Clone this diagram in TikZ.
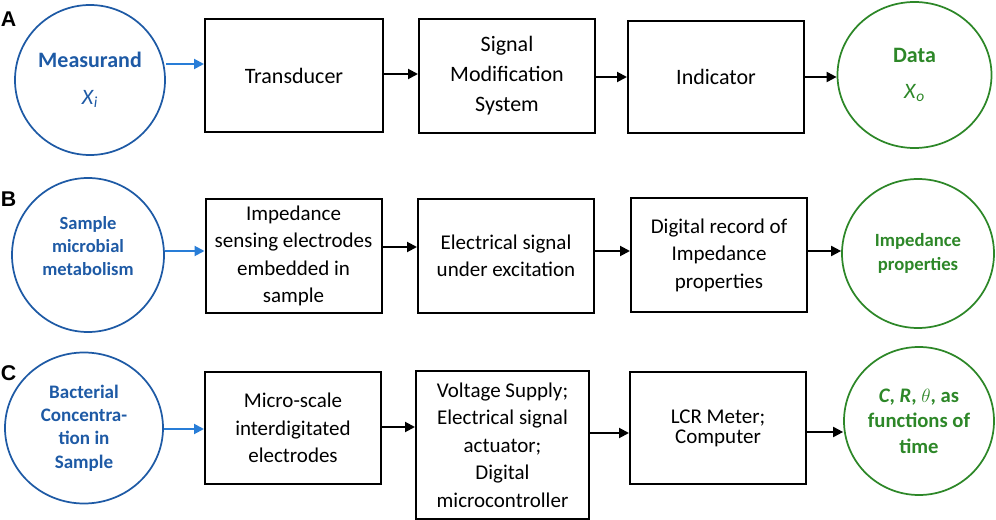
\documentclass[tikz,border=0pt]{standalone}
\usepackage{fontspec}
\setmainfont{Carlito}
\newfontfamily\labfont{Liberation Sans}
\usetikzlibrary{arrows.meta,shapes.geometric}

\definecolor{inblue}{RGB}{30,90,165}
\definecolor{arrblue}{RGB}{40,125,215}
\definecolor{outgreen}{RGB}{45,135,40}

\newcommand{\fsrowA}{\fontsize{16.5}{22.5}\selectfont}
\newcommand{\fsrow}{\fontsize{15.75}{20.6}\selectfont}

\begin{document}
\begin{tikzpicture}[x=0.75pt,y=-0.75pt,
    blk/.style={draw,line width=1.5pt,align=center,inner sep=2pt,
        minimum width=132pt,minimum height=85pt,font=\fsrow},
    incirc/.style={ellipse,draw=inblue,line width=1.3pt,text=inblue,
        align=center,inner sep=0pt},
    outcirc/.style={ellipse,draw=outgreen,line width=1.3pt,text=outgreen,
        align=center,inner sep=0pt},
    blarrow/.style={line width=1.5pt,-{Triangle[length=7.5pt,width=7.5pt]}},
    bluearrow/.style={blarrow,arrblue},
    rowlab/.style={font=\labfont\bfseries\fontsize{16}{18}\selectfont}]

    \useasboundingbox (0,0) rectangle (996,520);

    \node[rowlab] (labA) at (8.5,19) {A};
    \node[rowlab] (labB) at (8.5,199) {B};
    \node[rowlab] (labC) at (8.5,373) {C};

    \node[incirc,minimum width=112.5pt,minimum height=112.5pt,
        font=\fontsize{16.5}{27.75}\selectfont] (cA) at (90,80)
        {\textbf{Measurand}\\\textit{X}\textsubscript{\textit{i}}};
    \node[blk,minimum width=133.5pt,font=\fsrowA] (tA) at (294,75.5) {Transducer};
    \node[blk,minimum height=85.5pt,font=\fsrowA] (sA) at (507,76)
        {Signal\\Modification\\System};
    \node[blk,minimum height=84pt,font=\fsrowA] (iA) at (716,77) {Indicator};
    \node[outcirc,minimum width=115.5pt,minimum height=109.5pt,
        font=\fontsize{16.5}{27}\selectfont] (dA) at (914.5,75)
        {\textbf{Data}\\\textit{X}\textsubscript{\textit{o}}};

    \node[incirc,minimum width=114pt,minimum height=115.5pt,text depth=13.5pt,
        font=\bfseries\fontsize{13.9}{17.25}\selectfont] (cB) at (88,255)
        {Sample\\microbial\\metabolism};
    \node[blk,minimum height=85.5pt] (tB) at (293.5,256)
        {Impedance\\sensing electrodes\\embedded in\\sample};
    \node[blk,minimum height=85.5pt] (sB) at (506,256)
        {Electrical signal\\under excitation};
    \node[blk,minimum height=85.5pt] (iB) at (719,255)
        {Digital record of\\Impedance\\properties};
    \node[outcirc,minimum width=114pt,minimum height=111.75pt,
        font=\bfseries\fontsize{14}{18}\selectfont] (dB) at (918,253.5)
        {Impedance\\properties};

    \node[incirc,minimum width=118.5pt,minimum height=113.25pt,
        font=\bfseries\fontsize{14.3}{17.5}\selectfont] (cC) at (84,428)
        {Bacterial\\Concentra-\\tion in\\Sample};
    \node[blk,minimum height=84pt] (tC) at (293,428)
        {Micro-scale\\interdigitated\\electrodes};
    \node[blk,minimum width=129.75pt,minimum height=111pt] (sC) at (502.5,445)
        {Voltage Supply;\\Electrical signal\\actuator;\\Digital\\microcontroller};
    \node[blk,minimum height=84pt,font=\fontsize{15.75}{15}\selectfont] (iC) at (718,428)
        {LCR Meter;\\Computer};
    \node[outcirc,minimum width=112.5pt,minimum height=111pt,
        font=\bfseries\fontsize{15.5}{19}\selectfont] (dC) at (919,421)
        {\textit{C}, \textit{R}, $\theta$, as\\functions of\\time};

    \draw[bluearrow] (cA.east |- 0,64) -- (tA.west |- 0,64);
    \draw[blarrow] (tA.east |- 0,74) -- (sA.west |- 0,74);
    \draw[blarrow] (sA.east |- 0,77) -- (iA.west |- 0,77);
    \draw[blarrow] (iA.east |- 0,77) -- (dA.west |- 0,77);

    \draw[bluearrow] (cB.east |- 0,251) -- (tB.west |- 0,251);
    \draw[blarrow] (tB.east |- 0,247) -- (sB.west |- 0,247);
    \draw[blarrow] (sB.east |- 0,251) -- (iB.west |- 0,251);
    \draw[blarrow] (iB.east |- 0,251) -- (dB.west |- 0,251);

    \draw[bluearrow] (cC.east |- 0,429) -- (tC.west |- 0,429);
    \draw[blarrow] (tC.east |- 0,427) -- (sC.west |- 0,427);
    \draw[blarrow] (sC.east |- 0,433) -- (iC.west |- 0,433);
    \draw[blarrow] (iC.east |- 0,432) -- (dC.west |- 0,432);

\end{tikzpicture}
\end{document}
